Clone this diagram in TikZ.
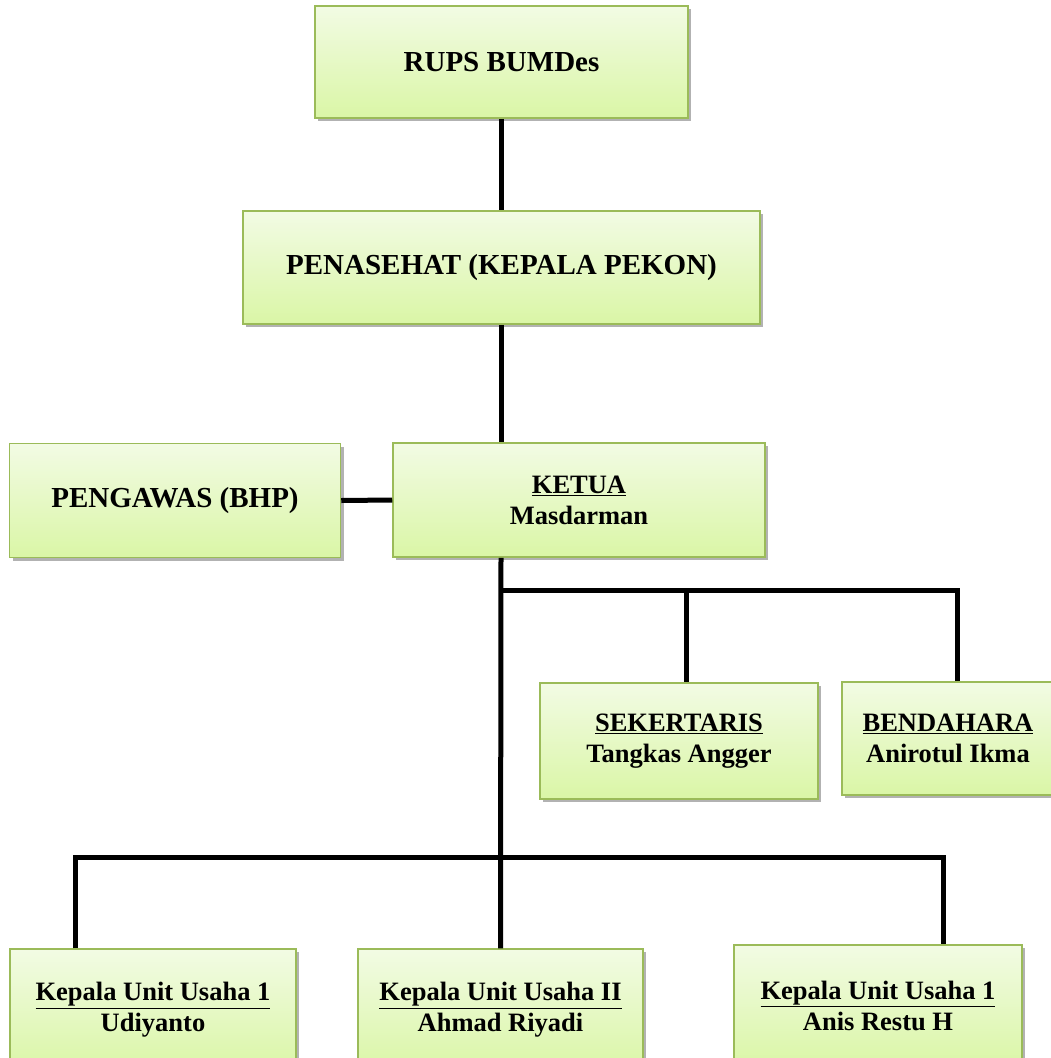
\documentclass[tikz,border=0pt]{standalone}
\usepackage{fontspec}
\setmainfont{Liberation Serif}
\usetikzlibrary{shadows}
\definecolor{boxtop}{RGB}{242,251,228}
\definecolor{boxbottom}{RGB}{218,246,166}
\definecolor{boxline}{RGB}{155,187,89}
\tikzset{
  orgbox/.style={draw=boxline, line width=1.5pt, top color=boxtop, bottom color=boxbottom,
    inner sep=0pt, align=center, font=\fontsize{29}{31}\selectfont\bfseries,
    drop shadow={shadow xshift=3pt, shadow yshift=-3pt, fill=black, opacity=0.3}},
  namebox/.style={orgbox, font=\fontsize{26.5}{31}\selectfont\bfseries},
  link/.style={line width=5pt, black, line join=miter}
}

\begin{document}
\begin{tikzpicture}[x=1pt,y=-1pt]
\useasboundingbox (0,0) rectangle (1051,1058);
\node[orgbox, minimum width=373, minimum height=112] (rups) at (501.5,62) {RUPS BUMDes};
\node[orgbox, minimum width=517, minimum height=113] (penasehat) at (501.5,267.5) {PENASEHAT (KEPALA PEKON)};
\node[orgbox, minimum width=331, minimum height=114] (pengawas) at (175,500.5) {PENGAWAS (BHP)};
\node[namebox, minimum width=372, minimum height=114] (ketua) at (579,500) {\underline{KETUA}\\Masdarman};
\node[namebox, minimum width=278, minimum height=116] (sekretaris) at (679,741) {\underline{SEKERTARIS}\\Tangkas Angger};
\node[namebox, minimum width=212, minimum height=113] (bendahara) at (948,738.5) {\underline{BENDAHARA}\\Anirotul Ikma};
\node[namebox, minimum width=286, minimum height=122] (unitA) at (153,1010) {\underline{Kepala Unit Usaha 1}\\Udiyanto};
\node[namebox, minimum width=285, minimum height=122] (unitB) at (500.5,1010) {\underline{Kepala Unit Usaha II}\\Ahmad Riyadi};
\node[namebox, minimum width=288, minimum height=122] (unitC) at (878,1006) {\underline{Kepala Unit Usaha 1}\\Anis Restu H};
\coordinate (staff) at (501,590);
\coordinate (sekdrop) at (686,590);
\coordinate (benddrop) at (957,590);
\coordinate (units) at (501,857);
\coordinate (unitleft) at (75,857);
\coordinate (unitright) at (943,857);
\draw[link] (rups.south) -- (penasehat.north);
\draw[link] (penasehat.south) -- (penasehat.south |- ketua.north);
\draw[link] (pengawas.east) -- (ketua.west);
\draw[link] (staff |- ketua.south) -- (unitB.north);
\draw[link] (staff) -- (benddrop) -- (benddrop |- bendahara.north);
\draw[link] (sekdrop) -- (sekdrop |- sekretaris.north);
\draw[link] (unitleft |- unitA.north) -- (unitleft) -- (unitright) -- (unitright |- unitC.north);
\end{tikzpicture}
\end{document}
